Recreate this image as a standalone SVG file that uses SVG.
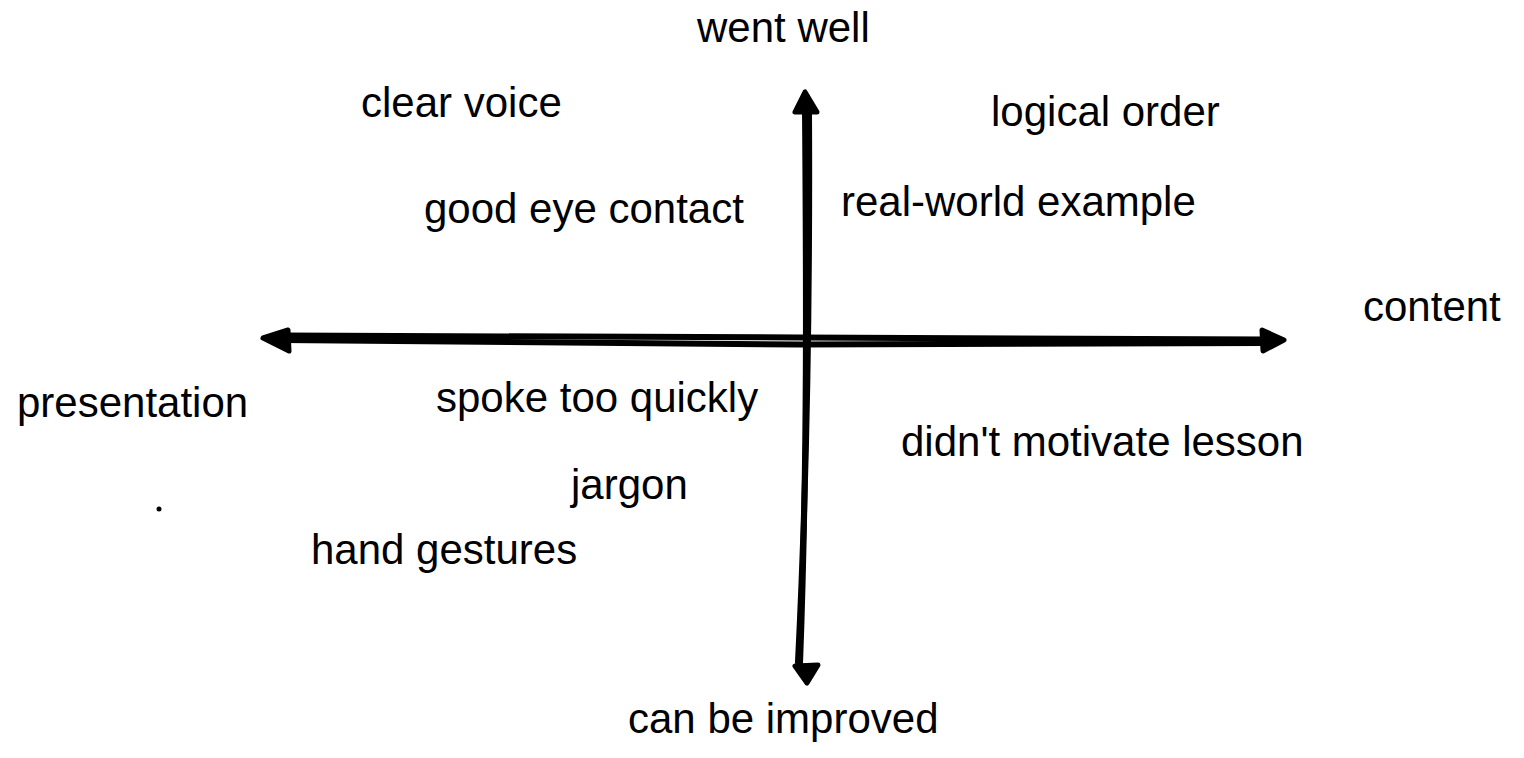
<svg xmlns="http://www.w3.org/2000/svg" width="1524" height="758" viewBox="0 0 1524 758">
<style>
.lbl{font-family:"Liberation Sans",Arial,Helvetica,sans-serif;font-size:42px;fill:#000}
.ax{fill:none;stroke:#000;stroke-linecap:round;stroke-linejoin:round}
.head{fill:#000;stroke:#000;stroke-width:5;stroke-linejoin:round}
</style>
<rect width="1524" height="758" fill="#fff"/>
<g id="connectors">
<path class="ax" stroke-width="6" d="M282,335.5 L800,337.5 L1266,339.5"/>
<path class="ax" stroke-width="6" d="M282,340 L800,344.5 L1266,343"/>
<path class="ax" stroke-width="6" d="M805,110 C806,250 808,450 800,664"/>
<path class="ax" stroke-width="6" d="M809,110 C810,300 806,500 798,662"/>
<polygon class="head" points="805,92 795,112 817,112"/>
<polygon class="head" points="263,338 288,330 289,351"/>
<polygon class="head" points="1284,340 1262,330 1263,351"/>
<polygon class="head" points="807,683 795,666 818,665"/>
<circle cx="159" cy="509" r="2.5" fill="#000"/>
</g>
<g id="went-well"><text class="lbl" x="697" y="42">went well</text></g>
<g id="can-be-improved"><text class="lbl" x="628" y="733">can be improved</text></g>
<g id="content"><text class="lbl" x="1363" y="321">content</text></g>
<g id="presentation"><text class="lbl" x="17" y="417">presentation</text></g>
<g id="clear-voice"><text class="lbl" x="361" y="117">clear voice</text></g>
<g id="good-eye-contact"><text class="lbl" x="424" y="223">good eye contact</text></g>
<g id="logical-order"><text class="lbl" x="991" y="126">logical order</text></g>
<g id="real-world-example"><text class="lbl" x="841" y="216">real-world example</text></g>
<g id="spoke-too-quickly"><text class="lbl" x="436" y="412">spoke too quickly</text></g>
<g id="jargon"><text class="lbl" x="571" y="499">jargon</text></g>
<g id="hand-gestures"><text class="lbl" x="311" y="564">hand gestures</text></g>
<g id="didnt-motivate-lesson"><text class="lbl" x="901" y="456">didn't motivate lesson</text></g>
</svg>
